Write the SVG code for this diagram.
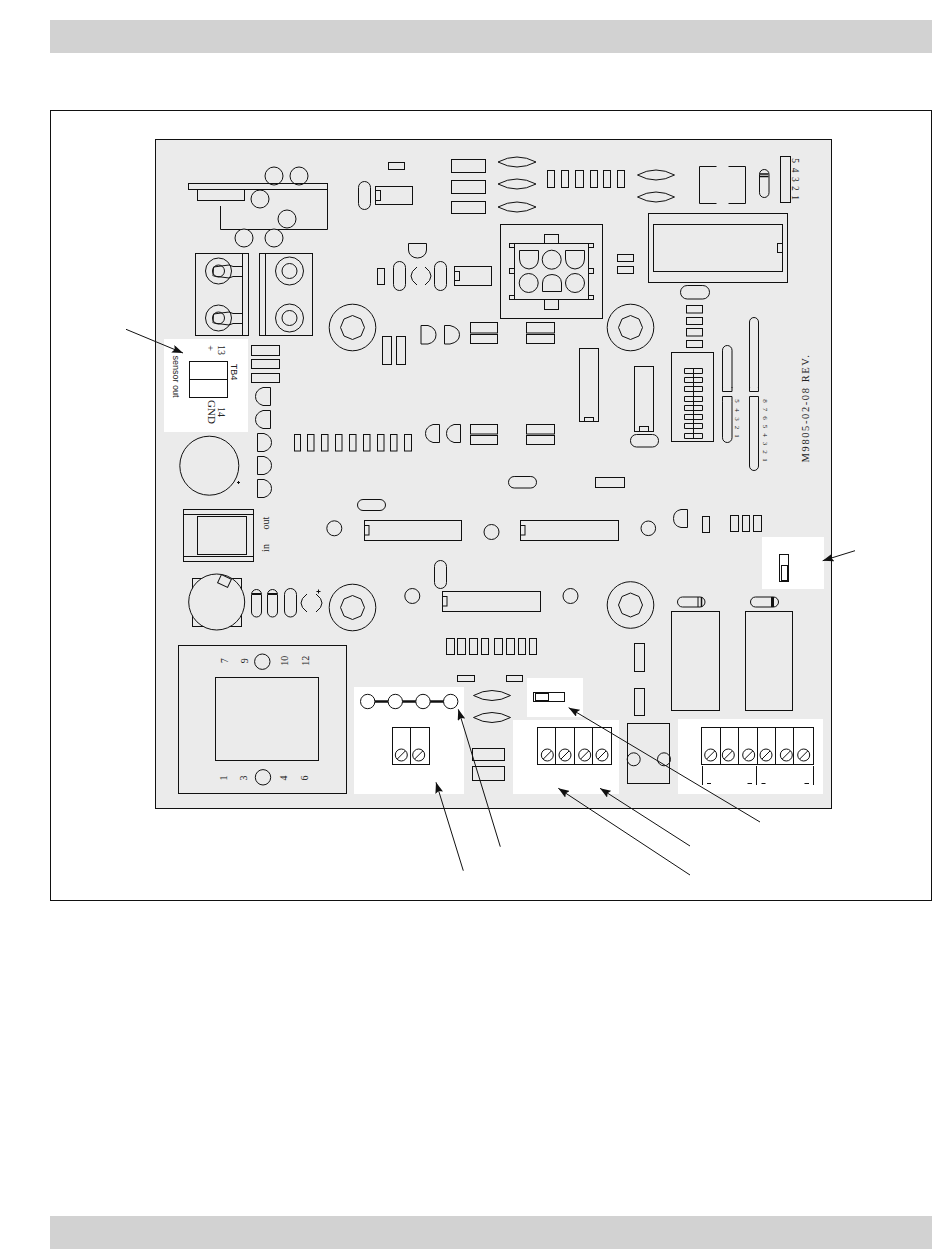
<svg xmlns="http://www.w3.org/2000/svg" width="950" height="1254" viewBox="0 0 950 1254">
<style>
.s{fill:none;stroke:#111;stroke-width:1}
.p{fill:#ebebeb;stroke:#111;stroke-width:1}
.w{fill:#fff;stroke:none}
.c{fill:#fff;stroke:#111;stroke-width:1}
.l{font-family:"Liberation Serif",serif;font-size:10px;fill:#222;text-anchor:middle}
.a{stroke:#111;stroke-width:1;fill:none;marker-end:url(#ah)}
</style>
<defs>
<marker id="ah" markerUnits="userSpaceOnUse" markerWidth="12" markerHeight="8" refX="11" refY="4" orient="auto"><path d="M0 0L11 4L0 8L2 4Z" fill="#111"/></marker>
<path id="hexw" d="M0 -23.3A23.3 23.3 0 1 1 0 23.3A23.3 23.3 0 1 1 0 -23.3ZM0 -12L8.5 -8.5L12 0L8.5 8.5L0 12L-8.5 8.5L-12 0L-8.5 -8.5Z" class="s"/>
<g id="screw"><circle r="6" class="c"/><path d="M-4 4L4 -4" class="s"/></g>
</defs>
<rect width="950" height="1254" fill="#fff"/>
<rect x="50" y="20" width="882" height="33" fill="#d2d2d2"/>
<rect x="50" y="1216" width="882" height="33" fill="#d2d2d2"/>
<rect x="50.5" y="110.5" width="881" height="790" fill="#fff" stroke="#111"/>
<rect id="board" x="155.5" y="139.5" width="676" height="669" fill="#ebebeb" stroke="#111"/>
<g id="white-zones">
<rect class="w" x="164" y="339" width="84" height="93"/>
<rect class="w" x="354" y="687" width="110" height="107"/>
<rect class="w" x="513" y="720" width="106" height="74"/>
<rect class="w" x="527" y="678" width="56" height="39"/>
<rect class="w" x="678" y="719" width="145" height="75"/>
<rect class="w" x="762" y="537" width="62" height="52"/>
</g>
<g id="relay-top">
<circle class="s" cx="274" cy="176" r="9"/><circle class="s" cx="299" cy="176" r="9"/>
<path class="s" d="M220.5 206V229.5H327.5V189"/>
<rect class="s" x="188.5" y="183.5" width="139" height="6"/>
<rect class="s" x="197.5" y="189.5" width="47" height="11"/>
<circle class="s" cx="260" cy="199" r="9"/><circle class="s" cx="287" cy="219" r="9"/>
<circle class="p" cx="244" cy="238" r="9"/><circle class="p" cx="274" cy="238" r="9"/>
</g>
<g id="terminal-a">
<rect class="s" x="195.5" y="253.5" width="53" height="82"/><path class="s" d="M242.5 253.5V335.5"/>
<circle class="s" cx="218.5" cy="271" r="13"/><circle class="s" cx="218.5" cy="318" r="13"/>
<circle class="s" cx="218.5" cy="271" r="6"/><circle class="s" cx="218.5" cy="318" r="6"/>
<path class="s" d="M213.5 267L229 265L233 266.5H242.5M213.5 276L229 278L233 276.5H242.5M213.5 267L213 276"/>
<path class="s" d="M213.5 314L229 312L233 313.5H242.5M213.5 323L229 325L233 323.5H242.5M213.5 314L213 323"/>
</g>
<g id="terminal-b">
<rect class="s" x="259.5" y="253.5" width="53" height="82"/><path class="s" d="M265.5 253.5V335.5"/>
<circle class="s" cx="289.5" cy="271" r="14"/><circle class="s" cx="289.5" cy="271" r="7.5"/>
<circle class="s" cx="289.5" cy="318" r="14"/><circle class="s" cx="289.5" cy="318" r="7.5"/>
</g>
<g id="washers">
<use href="#hexw" x="352.5" y="327.5"/><use href="#hexw" x="630.5" y="327.5"/>
<use href="#hexw" x="352.5" y="607.5"/><use href="#hexw" x="630.5" y="605"/>
</g>
<g id="parts-top" class="s">
<rect class="s" x="388.5" y="162.5" width="16" height="7"/>
<rect class="s" x="358.5" y="181.5" width="12" height="28" rx="6"/>
<rect class="s" x="375.5" y="186.5" width="37" height="18"/><rect class="s" x="375.5" y="190.5" width="5" height="10"/>
<rect class="s" x="382.5" y="336.5" width="9" height="28"/><rect class="s" x="396.5" y="336.5" width="9" height="28"/>
<rect class="s" x="377.5" y="268.5" width="7" height="16"/>
<rect class="s" x="393.5" y="261.5" width="12" height="29" rx="6"/>
<rect class="s" x="434.5" y="261.5" width="12" height="29" rx="6"/>
<path class="s" d="M408.5 243.5H426.5V250A9 8 0 0 1 408.5 250Z"/>
<path class="s" d="M417 267Q405 276 417 285M425 267Q437 276 425 285"/>
<rect class="s" x="454.5" y="266.5" width="37" height="19"/><rect class="s" x="454.5" y="271.5" width="5" height="9"/>
<rect class="s" x="451.5" y="159.5" width="34" height="13"/><rect class="s" x="451.5" y="180.5" width="34" height="13"/><rect class="s" x="451.5" y="201.5" width="34" height="12"/>
<path class="s" d="M498 162Q517 152 536 162Q517 172 498 162ZM498 184Q517 174 536 184Q517 194 498 184ZM498 207Q517 197 536 207Q517 217 498 207Z"/>
<path class="s" d="M637.5 175Q656 165 674.5 175Q656 185 637.5 175ZM637.5 197Q656 187 674.5 197Q656 207 637.5 197Z"/>
<rect class="s" x="547.5" y="170.5" width="7" height="17"/><rect class="s" x="561.5" y="170.5" width="7" height="17"/><rect class="s" x="575.5" y="170.5" width="8" height="17"/><rect class="s" x="590.5" y="170.5" width="7" height="17"/><rect class="s" x="603.5" y="170.5" width="7" height="17"/><rect class="s" x="617.5" y="170.5" width="7" height="17"/>
<path class="s" d="M716.5 166.5H699.5V203.5H716.5M728.5 166.5H745.5V203.5H728.5"/>
<rect class="s" x="759.5" y="169.5" width="9.5" height="28" rx="4.7"/><path d="M760 174H768.5M760 176.5H768.5" stroke="#111" stroke-width="1.4"/>
<rect class="s" x="780.5" y="156.5" width="10" height="46"/>
<rect class="s" x="648.5" y="213.5" width="139" height="69"/><rect class="s" x="653.5" y="224.5" width="129" height="47"/><rect class="s" x="777.5" y="243.5" width="5" height="9"/>
<rect class="s" x="617.5" y="254.5" width="16" height="7"/><rect class="s" x="617.5" y="266.5" width="16" height="7"/>
<rect class="s" x="680.5" y="285.5" width="29" height="13.5" rx="6.7"/>
<rect class="s" x="686.5" y="305.5" width="16" height="7.5"/><rect class="s" x="686.5" y="317.5" width="16" height="7"/><rect class="s" x="686.5" y="328.5" width="16" height="7.5"/><rect class="s" x="686.5" y="340.5" width="16" height="7"/>
</g>
<g id="connector">
<rect class="s" x="500.5" y="224.5" width="102" height="94"/>
<rect class="s" x="514.5" y="243.5" width="74" height="56"/>
<rect class="s" x="544.5" y="234.5" width="14" height="9"/><rect class="s" x="544.5" y="299.5" width="14" height="10"/>
<rect class="s" x="509.5" y="243.5" width="5" height="4"/><rect class="s" x="509.5" y="268.5" width="5" height="5"/><rect class="s" x="509.5" y="295.5" width="5" height="4"/>
<rect class="s" x="588.5" y="243.5" width="5" height="4"/><rect class="s" x="588.5" y="268.5" width="5" height="5"/><rect class="s" x="588.5" y="295.5" width="5" height="4"/>
<path class="s" d="M519.5 250.5H538.5V259Q538 268 529 269Q520 268 519.5 259Z"/>
<circle class="s" cx="551.7" cy="259.7" r="9.5"/>
<path class="s" d="M565.5 250.5H584.5V259Q584 268 575 269Q566 268 565.5 259Z"/>
<circle class="s" cx="528.7" cy="283" r="9.5"/>
<path class="s" d="M542.5 291.5H561.5V283Q561 275 552 274.5Q543 275 542.5 283Z"/>
<circle class="s" cx="575" cy="283" r="9.5"/>
</g>
<g id="sensor">
<rect class="s" x="189.5" y="361.5" width="38" height="36"/><path class="s" d="M189.5 379.5H227.5"/>
<text class="l" transform="translate(218 350) rotate(90)">13</text>
<text class="l" transform="translate(207 348) rotate(90)">+</text>
<text transform="translate(231 372) rotate(90)" text-anchor="middle" style="font-family:'Liberation Sans',sans-serif;font-size:9px;fill:#222">TB4</text>
<text class="l" transform="translate(218 412) rotate(90)">14</text>
<text class="l" transform="translate(208 412) rotate(90)" style="font-size:11px">GND</text>
<text transform="translate(173 376.5) rotate(90)" text-anchor="middle" style="font-family:'Liberation Sans',sans-serif;font-size:9px;fill:#222">sensor out</text>
</g>
<g id="left-parts">
<rect class="s" x="251.5" y="345.5" width="28" height="10"/><rect class="s" x="251.5" y="359.5" width="28" height="9"/><rect class="s" x="251.5" y="373.5" width="28" height="9"/>
<path class="s" d="M270.5 387.5V405.5H263Q255.5 403 255.5 396.5Q255.5 390 263 387.5Z"/>
<path class="s" d="M270.5 410.5V428.5H263Q255.5 426 255.5 419.5Q255.5 413 263 410.5Z"/>
<path class="s" d="M257.5 433.5V451.5H264Q271.5 449 271.5 442.5Q271.5 436 264 433.5Z"/>
<path class="s" d="M257.5 456.5V474.5H264Q271.5 472 271.5 465.5Q271.5 459 264 456.5Z"/>
<path class="s" d="M257.5 479.5V497.5H264Q271.5 495 271.5 488.5Q271.5 482 264 479.5Z"/>
<circle class="s" cx="209.3" cy="465.7" r="29.5"/><path class="s" d="M237 482.5H240M238.5 481V484"/>
<rect class="s" x="183.5" y="509.5" width="70" height="52"/><path class="s" d="M183.5 514.5H253.5M183.5 556.5H253.5"/>
<rect class="p" x="197.5" y="516.5" width="49" height="38"/>
<text class="l" transform="translate(269 523) rotate(-90)">out</text>
<text class="l" transform="translate(269 548) rotate(-90)">in</text>
<rect class="s" x="192.5" y="578.5" width="49" height="48"/>
<circle class="p" cx="216.7" cy="602" r="28"/>
<rect class="p" x="219" y="576.5" width="11" height="9" transform="rotate(25 224.5 581)"/>
<rect class="s" x="251.5" y="589.5" width="10" height="27.5" rx="5"/><rect class="s" x="267.5" y="589.5" width="10" height="27.5" rx="5"/>
<path d="M252 594H261M268 594H277" stroke="#111" stroke-width="2"/>
<rect class="s" x="284.5" y="588.5" width="12" height="28.5" rx="6"/>
<path class="s" d="M307 594Q295 603 307 612M316 594Q328 603 316 612M316.5 591.5H320.5M318.5 589.5V593.5"/>
<rect class="s" x="357.5" y="499.5" width="28" height="11" rx="5.5"/>
<rect class="s" x="294.5" y="434.5" width="6" height="16.5"/><rect class="s" x="307.5" y="434.5" width="6.5" height="16.5"/><rect class="s" x="321.5" y="434.5" width="6.5" height="16.5"/><rect class="s" x="335.5" y="434.5" width="6.5" height="16.5"/><rect class="s" x="349.5" y="434.5" width="6.5" height="16.5"/><rect class="s" x="363.5" y="434.5" width="6.5" height="16.5"/><rect class="s" x="377.5" y="434.5" width="6.5" height="16.5"/><rect class="s" x="390.5" y="434.5" width="6.5" height="16.5"/><rect class="s" x="404.5" y="434.5" width="7" height="16.5"/>
</g>
<g id="center-parts">
<path class="s" d="M436 325.5V344H429Q421 342 421 334.7Q421 328 429 325.5Z" transform="matrix(-1 0 0 1 857 0)"/>
<path class="s" d="M444.5 325.5V344H450Q459.5 342 459.5 334.7Q459.5 328 450 325.5Z"/>
<path class="s" d="M439.5 424.5V442.5H433Q425.5 440 425.5 433.5Q425.5 427 433 424.5Z"/>
<path class="s" d="M460.5 424.5V442.5H454Q446.5 440 446.5 433.5Q446.5 427 454 424.5Z"/>
<rect class="s" x="470.5" y="322.5" width="27" height="10.5"/><rect class="s" x="470.5" y="334.5" width="27" height="9"/>
<rect class="s" x="526.5" y="322.5" width="28" height="10.5"/><rect class="s" x="526.5" y="334.5" width="28" height="9"/>
<rect class="s" x="470.5" y="424.5" width="27" height="9.5"/><rect class="s" x="470.5" y="435.5" width="27" height="9"/>
<rect class="s" x="526.5" y="424.5" width="28" height="9.5"/><rect class="s" x="526.5" y="435.5" width="28" height="9"/>
<rect class="s" x="579.5" y="348.5" width="19" height="73"/><rect class="s" x="584.5" y="417.5" width="9" height="4"/>
<rect class="s" x="634.5" y="366.5" width="19" height="65"/><rect class="s" x="639.5" y="426.5" width="9" height="5"/>
<rect class="s" x="630.5" y="434.5" width="28" height="12.5" rx="6"/>
<rect class="s" x="508.5" y="476.5" width="28" height="11.5" rx="5.7"/>
<rect class="s" x="595.5" y="477.5" width="29" height="10"/>
<rect class="s" x="364.5" y="520.5" width="97" height="20"/><rect class="s" x="364.5" y="525.5" width="4.5" height="9.5"/>
<rect class="s" x="520.5" y="520.5" width="98" height="20"/><rect class="s" x="520.5" y="525.5" width="4.5" height="9.5"/>
<rect class="s" x="442.5" y="591.5" width="98" height="20"/><rect class="s" x="442.5" y="596.5" width="4.5" height="9.5"/>
<circle class="s" cx="334.3" cy="528.3" r="7.5"/><circle class="s" cx="491.5" cy="532" r="7.5"/><circle class="s" cx="648.3" cy="528.3" r="7.3"/>
<circle class="s" cx="412.3" cy="596" r="7.5"/><circle class="s" cx="570.5" cy="596" r="7.5"/>
<rect class="s" x="434.5" y="560.5" width="12" height="28" rx="6"/>
<rect class="s" x="446.5" y="638.5" width="8" height="16"/><rect class="s" x="457.5" y="638.5" width="8" height="16"/><rect class="s" x="469.5" y="638.5" width="8" height="16"/><rect class="s" x="481.5" y="638.5" width="7" height="16"/><rect class="s" x="494.5" y="638.5" width="8" height="16"/><rect class="s" x="506.5" y="638.5" width="8" height="16"/><rect class="s" x="518.5" y="638.5" width="7" height="16"/><rect class="s" x="529.5" y="638.5" width="7" height="16"/>
<rect class="s" x="457.5" y="675.5" width="17" height="6"/><rect class="s" x="506.5" y="675.5" width="16" height="6"/>
<path class="s" d="M473.5 695.5Q492 685.5 510.5 695.5Q492 705.5 473.5 695.5ZM473.5 717.5Q492 707.5 510.5 717.5Q492 727.5 473.5 717.5Z"/>
<rect class="s" x="472.5" y="748.5" width="32" height="12"/><rect class="s" x="472.5" y="766.5" width="32" height="14"/>
</g>
<g id="dip">
<rect class="s" x="671.5" y="352.5" width="42" height="89"/>
<path class="s" d="M684.5 368.5h18v5h-18zM684.5 377.5h18v5h-18zM684.5 386.5h18v5h-18zM684.5 396.5h18v5h-18zM684.5 405.5h18v5h-18zM684.5 414.5h18v5h-18zM684.5 423.5h18v5h-18zM684.5 433.5h18v5h-18zM693.5 368.5v70"/>
<rect class="s" x="722.5" y="345.5" width="9.5" height="46.5" rx="4.7"/><path fill="#ebebeb" d="M722 388h11v5h-11z"/><path class="s" d="M722.5 391.5V387M732 391.5V387M722.5 391.5H732"/>
<rect class="s" x="722.5" y="396.5" width="9.5" height="46" rx="4.7"/><path fill="#ebebeb" d="M722 396h11v5h-11z"/><path class="s" d="M722.5 396.5V401M732 396.5V401M722.5 396.5H732"/>
<rect class="s" x="749.5" y="317.5" width="9" height="74" rx="4.5"/><path fill="#ebebeb" d="M749 388h10v5h-10z"/><path class="s" d="M749.5 391.5V387M758.5 391.5V387M749.5 391.5H758.5"/>
<rect class="s" x="749.5" y="396.5" width="9" height="74" rx="4.5"/><path fill="#ebebeb" d="M749 396h10v5h-10z"/><path class="s" d="M749.5 396.5V401M758.5 396.5V401M749.5 396.5H758.5"/>
<g>
<text class="l" style="font-size:7px" transform="translate(734.5 401) rotate(90)">5</text><text class="l" style="font-size:7px" transform="translate(734.5 410) rotate(90)">4</text><text class="l" style="font-size:7px" transform="translate(734.5 419) rotate(90)">3</text><text class="l" style="font-size:7px" transform="translate(734.5 427.5) rotate(90)">2</text><text class="l" style="font-size:7px" transform="translate(734.5 436) rotate(90)">1</text>
<text class="l" style="font-size:7px" transform="translate(762.5 401) rotate(90)">8</text><text class="l" style="font-size:7px" transform="translate(762.5 409.5) rotate(90)">7</text><text class="l" style="font-size:7px" transform="translate(762.5 418) rotate(90)">6</text><text class="l" style="font-size:7px" transform="translate(762.5 426.5) rotate(90)">5</text><text class="l" style="font-size:7px" transform="translate(762.5 435) rotate(90)">4</text><text class="l" style="font-size:7px" transform="translate(762.5 443.5) rotate(90)">3</text><text class="l" style="font-size:7px" transform="translate(762.5 452) rotate(90)">2</text><text class="l" style="font-size:7px" transform="translate(762.5 460) rotate(90)">1</text>
</g>
<text class="l" transform="translate(809 408) rotate(-90)" style="font-size:10.5px;letter-spacing:1.6px">M9805-02-08 REV.</text>
<text class="l" transform="translate(792 160.7) rotate(90)" style="font-size:9.5px">5</text><text class="l" transform="translate(792 170) rotate(90)" style="font-size:9.5px">4</text><text class="l" transform="translate(792 179.3) rotate(90)" style="font-size:9.5px">3</text><text class="l" transform="translate(792 188.3) rotate(90)" style="font-size:9.5px">2</text><text class="l" transform="translate(792 197.7) rotate(90)" style="font-size:9.5px">1</text>
</g>
<g id="transformer">
<rect class="s" x="178.5" y="645.5" width="168" height="148"/>
<rect class="s" x="215.5" y="677.5" width="103" height="83"/>
<circle class="s" cx="262.3" cy="661.7" r="7.7"/><circle class="s" cx="263" cy="777.3" r="7.7"/>
<text class="l" transform="translate(227.5 660.7) rotate(-90)">7</text><text class="l" transform="translate(247.5 660.7) rotate(-90)">9</text><text class="l" transform="translate(288 660.7) rotate(-90)">10</text><text class="l" transform="translate(308.5 660.7) rotate(-90)">12</text>
<text class="l" transform="translate(226.5 778) rotate(-90)">1</text><text class="l" transform="translate(246.5 778) rotate(-90)">3</text><text class="l" transform="translate(286.5 778) rotate(-90)">4</text><text class="l" transform="translate(307.5 778) rotate(-90)">6</text>
</g>
<g id="jumper-bar">
<path d="M367.7 701.5H450.7" stroke="#111" stroke-width="2.6"/>
<circle class="c" cx="367.7" cy="701.5" r="7.2"/><circle class="c" cx="395.3" cy="701.5" r="7.2"/><circle class="c" cx="423" cy="701.5" r="7.2"/><circle class="c" cx="450.7" cy="701.5" r="7.2"/>
</g>
<g id="tb-2">
<rect class="s" x="392.5" y="727.5" width="37" height="37"/><path class="s" d="M410.5 727.5V764.5"/>
<use href="#screw" x="401.3" y="755"/><use href="#screw" x="418.7" y="755"/>
</g>
<g id="tb-4">
<rect class="s" x="537.5" y="727.5" width="74" height="37"/><path class="s" d="M555.5 727.5V764.5M574.5 727.5V764.5M592.5 727.5V764.5"/>
<use href="#screw" x="547.3" y="755"/><use href="#screw" x="565" y="755"/><use href="#screw" x="584.7" y="755"/><use href="#screw" x="602" y="755"/>
</g>
<g id="switch-a">
<rect class="s" x="533.5" y="692.5" width="31" height="9"/><rect class="s" x="535.5" y="693.5" width="13" height="7"/>
</g>
<g id="tb-6">
<rect class="s" x="701.5" y="727.5" width="112" height="37"/><path class="s" d="M720.5 727.5V764.5M738.5 727.5V764.5M757.5 727.5V764.5M775.5 727.5V764.5M793.5 727.5V764.5"/>
<use href="#screw" x="710.7" y="755"/><use href="#screw" x="728.3" y="755"/><use href="#screw" x="748.7" y="755"/><use href="#screw" x="766" y="755"/><use href="#screw" x="786.3" y="755"/><use href="#screw" x="803.7" y="755"/>
<path class="s" d="M702.5 766V785M756.5 766V785M813.5 766V785M707 783.5H711M747.5 783.5H752M761.5 783.5H765.5M804.5 783.5H809"/>
</g>
<g id="right-parts">
<path class="s" d="M673.5 518.5Q673.5 511 681 509.5H687.5V527.5H681Q673.5 526 673.5 518.5Z"/>
<rect class="s" x="702.5" y="516.5" width="7" height="16"/>
<rect class="s" x="730.5" y="515.5" width="8" height="16"/><rect class="s" x="742.5" y="515.5" width="7" height="16"/><rect class="s" x="753.5" y="515.5" width="8" height="16"/>
<rect class="s" x="779.5" y="554.5" width="9" height="27"/><rect class="s" x="781.5" y="565.5" width="6" height="15"/>
<rect class="s" x="677.5" y="597" width="27.5" height="10" rx="5"/><path d="M698 597V607" stroke="#111"/><path d="M701.5 597V607" stroke="#111" stroke-width="1.5"/>
<rect class="s" x="750.5" y="597" width="28" height="10" rx="5"/><path d="M772.5 597V607" stroke="#111" stroke-width="3"/>
<rect class="s" x="671.5" y="611.5" width="48" height="99"/><rect class="s" x="745.5" y="611.5" width="47" height="99"/>
<rect class="s" x="634.5" y="643.5" width="10" height="28"/><rect class="s" x="634.5" y="688.5" width="10" height="27"/>
<rect class="s" x="627.5" y="723.5" width="42" height="60"/>
<circle class="s" cx="633.7" cy="759.3" r="6.5"/><circle class="s" cx="664" cy="759.3" r="6.5"/>
</g>
<g id="connectors">
<path class="a" d="M126 329.3L183 353"/>
<path class="a" d="M855 550.7L822.7 560.7"/>
<path class="a" d="M463.3 870.7L436 782.3"/>
<path class="a" d="M500.3 846.7L458.3 709.3"/>
<path class="a" d="M690 875L558.3 788.3"/>
<path class="a" d="M690 846L600 788.3"/>
<path class="a" d="M760 822L568.7 707.7"/>
</g>
</svg>
